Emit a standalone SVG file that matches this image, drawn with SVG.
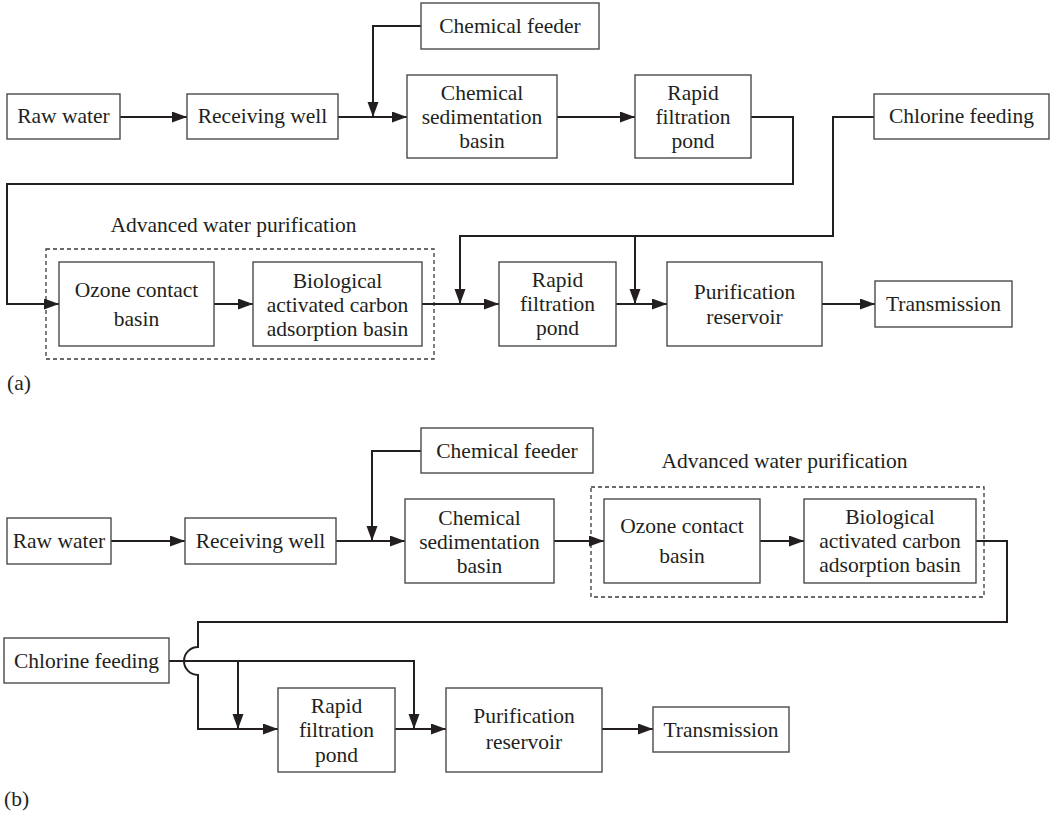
<svg xmlns="http://www.w3.org/2000/svg" width="1051" height="817" viewBox="0 0 1051 817">
  <style>
    .box { fill: #fff; stroke: #4a4a4a; stroke-width: 1.4; }
    .group { fill: none; stroke: #3a3a3a; stroke-width: 1.3; stroke-dasharray: 4 3; }
    .wire { fill: none; stroke: #231f20; stroke-width: 2; }
    .arrow { fill: none; stroke: #231f20; stroke-width: 2; marker-end: url(#head); }
    text { font-family: "Liberation Serif", "Times New Roman", serif; font-size: 21.5px; fill: #231f20; }
    .c { text-anchor: middle; }
  </style>
  <defs>
    <marker id="head" markerUnits="userSpaceOnUse" markerWidth="16" markerHeight="12" refX="15" refY="5.5" orient="auto">
      <path d="M0,0 L15,5.5 L0,11 Z" fill="#231f20"/>
    </marker>
  </defs>
  <rect width="1051" height="817" fill="#fff"/>

  <!-- ===== Panel (a) ===== -->
  <g id="a-groups">
    <rect class="group" x="46" y="249" width="388" height="110"/>
    <text class="c" x="233.5" y="232">Advanced water purification</text>
  </g>

  <g id="a-connectors">
    <path class="arrow" d="M120,117 H187"/>
    <path class="arrow" d="M338,117 H407"/>
    <path class="arrow" d="M421,26 H373 V117"/>
    <path class="arrow" d="M557,117 H635"/>
    <path class="arrow" d="M751,117 H793 V184 H7 V304 H59"/>
    <path class="arrow" d="M214,304 H253"/>
    <path class="arrow" d="M422,304 H499"/>
    <path class="arrow" d="M874,117 H833 V236 H460 V304"/>
    <path class="arrow" d="M635,236 V304"/>
    <path class="arrow" d="M616,304 H667"/>
    <path class="arrow" d="M822,304 H875"/>
  </g>

  <g id="a-raw-water">
    <rect class="box" x="7" y="94" width="113" height="45"/>
    <text class="c" x="63.5" y="123">Raw water</text>
  </g>
  <g id="a-receiving-well">
    <rect class="box" x="187" y="94" width="151" height="45"/>
    <text class="c" x="262.5" y="123">Receiving well</text>
  </g>
  <g id="a-chemical-feeder">
    <rect class="box" x="421" y="3" width="178" height="46"/>
    <text class="c" x="510" y="33">Chemical feeder</text>
  </g>
  <g id="a-chemical-sedimentation">
    <rect class="box" x="407" y="75" width="150" height="83"/>
    <text class="c" x="482" y="100">Chemical</text>
    <text class="c" x="482" y="124">sedimentation</text>
    <text class="c" x="482" y="148">basin</text>
  </g>
  <g id="a-rapid-filtration-1">
    <rect class="box" x="635" y="75" width="116" height="83"/>
    <text class="c" x="693" y="100">Rapid</text>
    <text class="c" x="693" y="124">filtration</text>
    <text class="c" x="693" y="148">pond</text>
  </g>
  <g id="a-chlorine-feeding">
    <rect class="box" x="874" y="94" width="175" height="45"/>
    <text class="c" x="961.5" y="123">Chlorine feeding</text>
  </g>
  <g id="a-ozone-contact">
    <rect class="box" x="59" y="262" width="155" height="84"/>
    <text class="c" x="136.5" y="297">Ozone contact</text>
    <text class="c" x="136.5" y="326">basin</text>
  </g>
  <g id="a-bac-adsorption">
    <rect class="box" x="253" y="262" width="169" height="84"/>
    <text class="c" x="337.5" y="288">Biological</text>
    <text class="c" x="337.5" y="312">activated carbon</text>
    <text class="c" x="337.5" y="336">adsorption basin</text>
  </g>
  <g id="a-rapid-filtration-2">
    <rect class="box" x="499" y="262" width="117" height="84"/>
    <text class="c" x="557.5" y="287">Rapid</text>
    <text class="c" x="557.5" y="311">filtration</text>
    <text class="c" x="557.5" y="335">pond</text>
  </g>
  <g id="a-purification-reservoir">
    <rect class="box" x="667" y="262" width="155" height="84"/>
    <text class="c" x="744.5" y="299">Purification</text>
    <text class="c" x="744.5" y="324">reservoir</text>
  </g>
  <g id="a-transmission">
    <rect class="box" x="875" y="281" width="137" height="46"/>
    <text class="c" x="943.5" y="311">Transmission</text>
  </g>
  <text x="7" y="390">(a)</text>

  <!-- ===== Panel (b) ===== -->
  <g id="b-groups">
    <rect class="group" x="591" y="487" width="393" height="110"/>
    <text class="c" x="784.5" y="468">Advanced water purification</text>
  </g>

  <g id="b-connectors">
    <path class="arrow" d="M111,541 H185"/>
    <path class="arrow" d="M336,541 H405"/>
    <path class="arrow" d="M421,451 H372 V541"/>
    <path class="arrow" d="M554,541 H604"/>
    <path class="arrow" d="M760,541 H804"/>
    <!-- return line hops over the chlorine feed line -->
    <path class="arrow" d="M976,541 H1007 V622 H198 V647 A14,14 0 0 0 198,675 V729 H278"/>
    <path class="arrow" d="M169,661 H414 V729"/>
    <path class="arrow" d="M238,661 V729"/>
    <path class="arrow" d="M395,729 H446"/>
    <path class="arrow" d="M602,729 H653"/>
  </g>

  <g id="b-raw-water">
    <rect class="box" x="7" y="518" width="104" height="46"/>
    <text class="c" x="59" y="548">Raw water</text>
  </g>
  <g id="b-receiving-well">
    <rect class="box" x="185" y="518" width="151" height="46"/>
    <text class="c" x="260.5" y="548">Receiving well</text>
  </g>
  <g id="b-chemical-feeder">
    <rect class="box" x="421" y="428" width="172" height="45"/>
    <text class="c" x="507" y="458">Chemical feeder</text>
  </g>
  <g id="b-chemical-sedimentation">
    <rect class="box" x="405" y="499" width="149" height="84"/>
    <text class="c" x="479.5" y="525">Chemical</text>
    <text class="c" x="479.5" y="549">sedimentation</text>
    <text class="c" x="479.5" y="573">basin</text>
  </g>
  <g id="b-ozone-contact">
    <rect class="box" x="604" y="499" width="156" height="84"/>
    <text class="c" x="682" y="533">Ozone contact</text>
    <text class="c" x="682" y="563">basin</text>
  </g>
  <g id="b-bac-adsorption">
    <rect class="box" x="804" y="499" width="172" height="84"/>
    <text class="c" x="890" y="524">Biological</text>
    <text class="c" x="890" y="548">activated carbon</text>
    <text class="c" x="890" y="572">adsorption basin</text>
  </g>
  <g id="b-chlorine-feeding">
    <rect class="box" x="4" y="638" width="165" height="45"/>
    <text class="c" x="86.5" y="668">Chlorine feeding</text>
  </g>
  <g id="b-rapid-filtration">
    <rect class="box" x="278" y="688" width="117" height="84"/>
    <text class="c" x="336.5" y="713">Rapid</text>
    <text class="c" x="336.5" y="737">filtration</text>
    <text class="c" x="336.5" y="762">pond</text>
  </g>
  <g id="b-purification-reservoir">
    <rect class="box" x="446" y="688" width="156" height="84"/>
    <text class="c" x="524" y="723">Purification</text>
    <text class="c" x="524" y="749">reservoir</text>
  </g>
  <g id="b-transmission">
    <rect class="box" x="653" y="707" width="136" height="45"/>
    <text class="c" x="721" y="737">Transmission</text>
  </g>
  <text x="4" y="806">(b)</text>
</svg>
